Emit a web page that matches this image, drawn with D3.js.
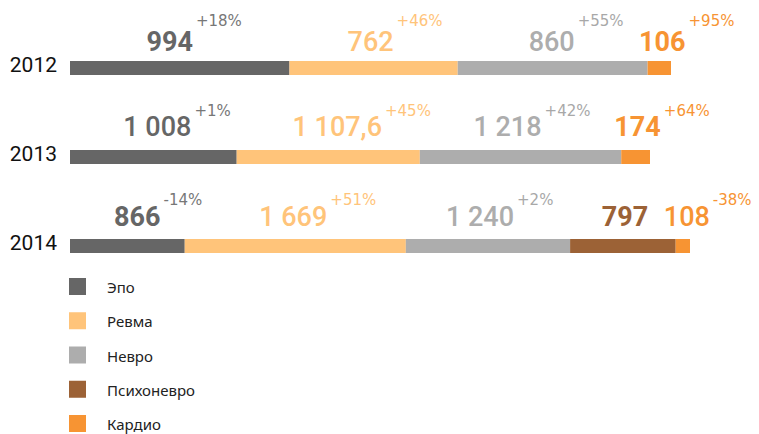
<!DOCTYPE html>
<html>
<head>
<meta charset="utf-8">
<script src="https://cdn.jsdelivr.net/npm/d3@7/dist/d3.min.js"></script>
<style>
  html, body { margin: 0; padding: 0; background: #fff; }
  svg { display: block; }
</style>
</head>
<body>
<svg id="chart" width="759" height="434"></svg>
<script>
// Sales by therapeutic area, per year
const years = ["2012", "2013", "2014"];
const categories = ["Эпо", "Ревма", "Невро", "Психоневро", "Кардио"];
const colors = ["#666666", "#ffc47a", "#adadad", "#9c6236", "#f79433"];

// values per category, one entry per year (null = no sales that year)
const epo        = [994, 1008, 866];
const revma      = [762, 1107.6, 1669];
const nevro      = [860, 1218, 1240];
const psychoNevro = [null, null, 797];
const kardio     = [106, 174, 108];

// year-on-year change labels
const epoChange    = ["+18%", "+1%", "-14%"];
const revmaChange  = ["+46%", "+45%", "+51%"];
const nevroChange  = ["+55%", "+42%", "+2%"];
const psychoChange = [null, null, null];
const kardioChange = ["+95%", "+64%", "-38%"];

const series = [epo, revma, nevro, psychoNevro, kardio];
const changes = [epoChange, revmaChange, nevroChange, psychoChange, kardioChange];

// layout
const barX0 = 70;
const barH = 14;
const rowEnd = [671, 650, 690];           // each year's bar is scaled on its own
const rowY = d3.scalePoint().domain(years).range([61, 239]);
const valueLift = [10, 14, 13];           // value label baseline above bar top
const pctLift = [25, 20, 21];             // change label raised above value baseline
const labelShift = [                      // horizontal nudge of value labels per year/category
  [-10, -3, -1, 0, 3],
  [4, 9, -13, 0, 2],
  [10, -2, -8, 2, 4]
];
const boldLabels = [
  [true, false, false, false, true],
  [false, false, false, false, true],
  [true, false, false, true, false]
];
const pctColors = ["#777777", "#ffc47a", "#a8a8a8", "#9c6236", "#f79433"];

const locale = d3.formatLocale({ decimal: ",", thousands: "\u00a0", grouping: [3], currency: ["", ""] });
const fmtInt = locale.format(",d");
const fmtDec = locale.format(",.1f");
const fmt = v => Number.isInteger(v) ? fmtInt(v) : fmtDec(v);

const svg = d3.select("#chart");

years.forEach((year, yi) => {
  const vals = series.map(s => s[yi]);
  const total = d3.sum(vals, v => v || 0);
  const x = d3.scaleLinear().domain([0, total]).range([barX0, rowEnd[yi]]);
  const barTop = rowY(year);

  const segs = [];
  let acc = 0;
  vals.forEach((v, ci) => {
    if (v == null) return;
    segs.push({ ci, v, x0: acc, x1: acc + v, change: changes[ci][yi] });
    acc += v;
  });

  const row = svg.append("g");

  row.selectAll("rect.seg").data(segs).join("rect")
    .attr("class", "seg")
    .attr("x", d => x(d.x0))
    .attr("y", barTop)
    .attr("width", d => x(d.x1) - x(d.x0))
    .attr("height", barH)
    .attr("fill", d => colors[d.ci]);

  // year label
  row.append("text")
    .attr("x", 57)
    .attr("y", barTop + barH - 3)
    .attr("text-anchor", "end")
    .attr("font-family", "Roboto, sans-serif")
    .attr("font-size", 21)
    .attr("fill", "#111")
    .text(year);

  const baseY = barTop - valueLift[yi];
  segs.forEach(d => {
    const cx = (x(d.x0) + x(d.x1)) / 2 + labelShift[yi][d.ci];
    const t = row.append("text")
      .attr("x", cx)
      .attr("y", baseY)
      .attr("text-anchor", "middle")
      .attr("font-family", "Roboto, sans-serif")
      .attr("font-size", 27)
      .attr("font-weight", boldLabels[yi][d.ci] ? 700 : 500)
      .attr("fill", colors[d.ci])
      .text(fmt(d.v));
    if (d.change) {
      const w = t.node().getComputedTextLength();
      row.append("text")
        .attr("x", cx + w / 2 + 3)
        .attr("y", baseY - pctLift[yi])
        .attr("font-family", "'DejaVu Sans', sans-serif")
        .attr("font-size", 15)
        .attr("fill", pctColors[d.ci])
        .text(d.change);
    }
  });
});

// legend
const legendY = d3.scalePoint().domain(categories).range([278, 415]);
const legend = svg.append("g");
categories.forEach((c, i) => {
  const y = legendY(c);
  legend.append("rect")
    .attr("x", 69).attr("y", y)
    .attr("width", 17).attr("height", 17)
    .attr("fill", colors[i]);
  legend.append("text")
    .attr("x", 107).attr("y", y + 15)
    .attr("font-family", "'Noto Sans', sans-serif")
    .attr("font-size", 15)
    .attr("fill", "#222")
    .text(c);
});
</script>
</body>
</html>
